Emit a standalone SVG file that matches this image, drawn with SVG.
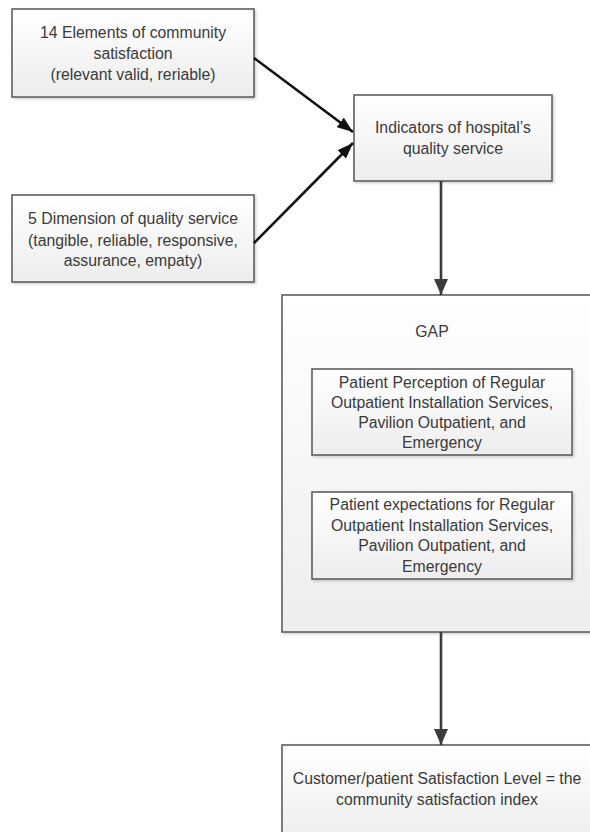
<svg xmlns="http://www.w3.org/2000/svg" width="590" height="832" viewBox="0 0 590 832">
<style>
.box{fill:url(#g);stroke:#5f5f5f;stroke-width:1.6;filter:url(#sh)}
.t{font-family:"Liberation Sans",Arial,sans-serif;font-size:15.8px;fill:#3a3a3a;text-anchor:middle}
.c{stroke:#111;stroke-width:2.6;fill:none}
.c2{stroke:#3c3c3c;stroke-width:2.6;fill:none}
</style>
<defs>
<linearGradient id="g" x1="0" y1="0" x2="0" y2="1">
<stop offset="0" stop-color="#ffffff"/>
<stop offset="1" stop-color="#ededed"/>
</linearGradient>
<filter id="sh" x="-5%" y="-5%" width="115%" height="115%">
<feDropShadow dx="1.5" dy="1.5" stdDeviation="1" flood-color="#000" flood-opacity="0.18"/>
</filter>
<marker id="a" viewBox="0 0 16 12" refX="16" refY="6" markerWidth="16" markerHeight="12" markerUnits="userSpaceOnUse" orient="auto">
<path d="M0,0 L16,6 L0,12 z" fill="#111"/>
</marker>
<marker id="b" viewBox="0 0 16 14" refX="16" refY="7" markerWidth="16" markerHeight="14" markerUnits="userSpaceOnUse" orient="auto">
<path d="M0,0 L16,7 L0,14 z" fill="#3c3c3c"/>
</marker>
</defs>
<g id="n1">
<rect class="box" x="12" y="9" width="242" height="88"/>
<text class="t" x="133" y="38">14 Elements of community</text>
<text class="t" x="133" y="59">satisfaction</text>
<text class="t" x="133" y="80">(relevant valid, reriable)</text>
</g>
<g id="n2">
<rect class="box" x="12" y="195" width="242" height="87"/>
<text class="t" x="133" y="224">5 Dimension of quality service</text>
<text class="t" x="133" y="246">(tangible, reliable, responsive,</text>
<text class="t" x="133" y="266">assurance, empaty)</text>
</g>
<g id="n3">
<rect class="box" x="354" y="95" width="198" height="86"/>
<text class="t" x="453" y="133">Indicators of hospital’s</text>
<text class="t" x="453" y="154">quality service</text>
</g>
<g id="n4">
<rect class="box" x="282" y="295" width="320" height="337"/>
<text class="t" x="432" y="337">GAP</text>
</g>
<g id="n5">
<rect class="box" x="312" y="369" width="260" height="86"/>
<text class="t" x="442" y="388">Patient Perception of Regular</text>
<text class="t" x="442" y="408">Outpatient Installation Services,</text>
<text class="t" x="442" y="428">Pavilion Outpatient, and</text>
<text class="t" x="442" y="448">Emergency</text>
</g>
<g id="n6">
<rect class="box" x="312" y="492" width="260" height="87"/>
<text class="t" x="442" y="510">Patient expectations for Regular</text>
<text class="t" x="442" y="531">Outpatient Installation Services,</text>
<text class="t" x="442" y="551">Pavilion Outpatient, and</text>
<text class="t" x="442" y="572">Emergency</text>
</g>
<g id="n7">
<rect class="box" x="282" y="745" width="320" height="100"/>
<text class="t" x="437" y="784">Customer/patient Satisfaction Level = the</text>
<text class="t" x="437" y="805">community satisfaction index</text>
</g>
<g id="connectors">
<line class="c" x1="254" y1="58" x2="353" y2="132" marker-end="url(#a)"/>
<line class="c" x1="254" y1="243" x2="353" y2="143" marker-end="url(#a)"/>
<line class="c2" x1="441" y1="181" x2="441" y2="295" marker-end="url(#b)"/>
<line class="c2" x1="441" y1="632" x2="441" y2="745" marker-end="url(#b)"/>
</g>
</svg>
